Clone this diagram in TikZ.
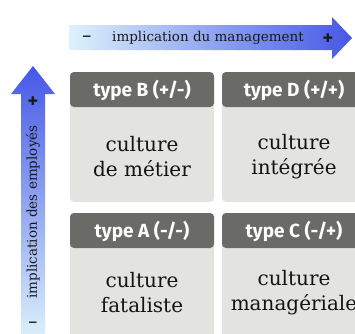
\documentclass[tikz,border=0pt]{standalone}
\usepackage{fontspec}
\setmainfont{DejaVu Serif}
\newfontfamily\hdrfont{Fira Sans}
\newfontfamily\symfont{DejaVu Sans}
\definecolor{hdrgray}{HTML}{6A6A66}
\definecolor{bodygray}{HTML}{E3E3E0}
\definecolor{arrblue}{HTML}{4558E6}
\definecolor{arrlight}{HTML}{DDF2FB}
\tikzset{
  bodybox/.style={fill=bodygray, rounded corners=4pt},
  hdrbox/.style={fill=hdrgray, rounded corners=4pt},
  hdrtext/.style={text=white, font=\hdrfont\bfseries\fontsize{19}{21}\selectfont},
  celltext/.style={align=center, font=\fontsize{20}{25}\selectfont, text=black!92},
  axistext/.style={font=\fontsize{13.5}{15}\selectfont, text=black!90},
  signtext/.style={font=\symfont\bfseries\fontsize{12}{12}\selectfont, text=black!90, inner sep=0pt}
}
\begin{document}
\begin{tikzpicture}[x=1pt,y=-1pt]
\useasboundingbox (0,0) rectangle (355,333);
\clip (0,0) rectangle (355,333);
\fill[white] (0,0) rectangle (355,333);
% top arrow
\shade[left color=arrlight, right color=arrblue]
  (69,25) -- (332,25) -- (332,17) -- (352,38) -- (332,59) -- (332,50) -- (69,50) -- cycle;
\node[signtext] (mminus) at (87,38) {−};
\node[axistext] (mlabel) at (208,38) {implication du management};
\node[signtext] (mplus) at (328,38) {✚};
% vertical arrow
\shade[top color=arrblue, bottom color=arrlight]
  (21,340) -- (21,94) -- (11,94) -- (33,66) -- (55,94) -- (45,94) -- (45,340) -- cycle;
\node[signtext] (eplus) at (33,101) {✚};
\node[axistext, rotate=90] (elabel) at (33,212) {implication des employés};
\node[signtext] (eminus) at (33,324) {−};
% boxes
\fill[bodybox] (70,72) rectangle (214,202);
\fill[hdrbox] (70,72) rectangle (214,107);
\fill[bodybox] (222,72) rectangle (366,202);
\fill[hdrbox] (222,72) rectangle (366,107);
\fill[bodybox] (70,213) rectangle (214,345);
\fill[hdrbox] (70,213) rectangle (214,248);
\fill[bodybox] (222,213) rectangle (366,345);
\fill[hdrbox] (222,213) rectangle (366,248);
\node[hdrtext] (hB) at (142,90) {type B (+/-)};
\node[hdrtext] (hD) at (294,90) {type D (+/+)};
\node[hdrtext] (hA) at (142,231) {type A (-/-)};
\node[hdrtext] (hC) at (294,231) {type C (-/+)};
\node[celltext] (cB) at (142,157) {culture\\de métier};
\node[celltext] (cD) at (294,157) {culture\\intégrée};
\node[celltext] (cA) at (142,293) {culture\\fataliste};
\node[celltext] (cC) at (294,293) {culture\\managériale};
\end{tikzpicture}
\end{document}
